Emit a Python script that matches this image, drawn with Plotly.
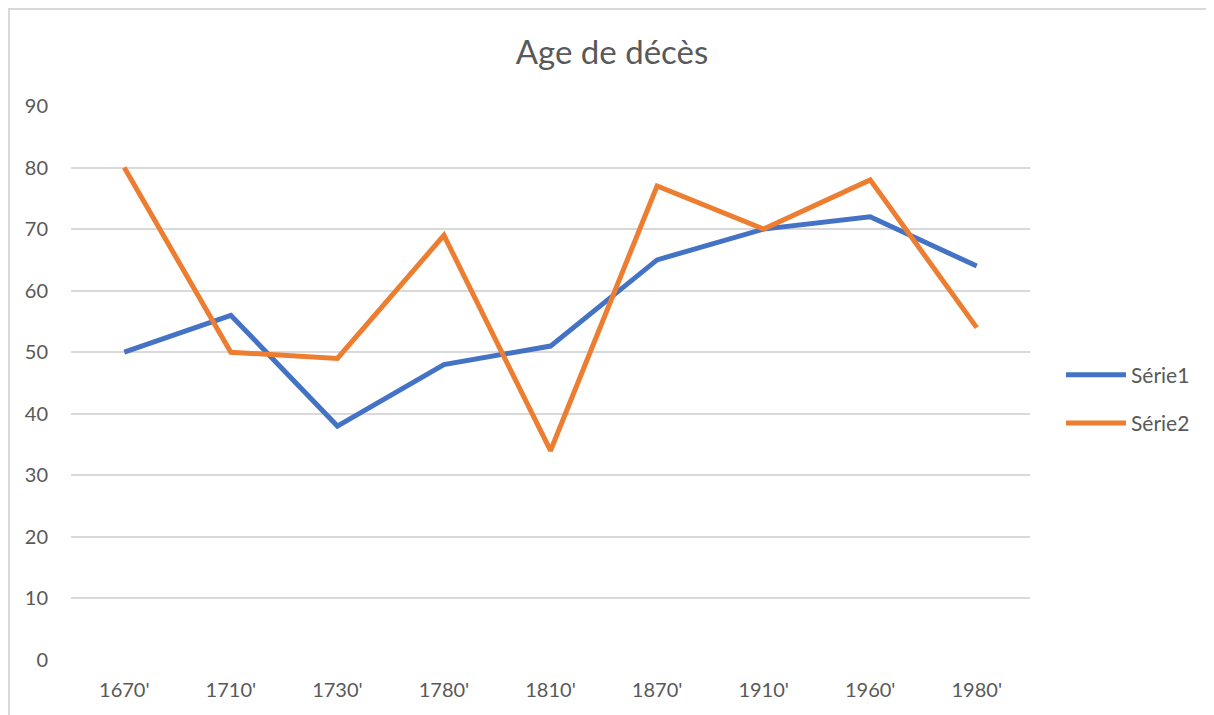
import plotly.graph_objects as go

categories = ["1670'", "1710'", "1730'", "1780'", "1810'", "1870'", "1910'", "1960'", "1980'"]
serie1 = [50, 56, 38, 48, 51, 65, 70, 72, 64]
serie2 = [80, 50, 49, 69, 34, 77, 70, 78, 54]
y_ticks = [0, 10, 20, 30, 40, 50, 60, 70, 80, 90]

FONT = "Lato, 'Open Sans', sans-serif"
GRAY = "#595959"

fig = go.Figure()
fig.add_trace(go.Scatter(x=categories, y=serie1, mode="lines", name="Série1",
                         legendgroup="g1",
                         line=dict(color="#4472C4", width=5)))
fig.add_trace(go.Scatter(x=categories, y=serie2, mode="lines", name="Série2",
                         legendgroup="g2",
                         line=dict(color="#ED7D31", width=5)))

# page has an 8px body margin; compensate so the plot area lands where the reference has it
OFF = 8
W, H = 1214 - OFF, 715 - OFF
L, R, T, B = 71 - OFF, 184, 106 - OFF, 55
pw = W - L - R
ph = H - T - B

fig.update_layout(
    width=W, height=H,
    margin=dict(l=L, r=R, t=T, b=B),
    paper_bgcolor="white", plot_bgcolor="white",
    title=dict(text="Age de décès", x=(612 - OFF) / W, xanchor="center",
               y=1 - (52 - OFF) / H, yanchor="middle",
               font=dict(family=FONT, size=33, color=GRAY)),
    font=dict(family=FONT, size=20, color=GRAY),
    showlegend=True,
    legend=dict(x=(1061 - 71) / pw, xanchor="left", y=(660 - 399) / ph, yanchor="middle",
                font=dict(family=FONT, size=21, color=GRAY),
                traceorder="grouped", tracegroupgap=18,
                itemwidth=60, bgcolor="rgba(0,0,0,0)"),
    xaxis=dict(type="category", range=[-0.5, 8.5], showgrid=False, zeroline=False,
               showline=False, ticks="", ticklabelstandoff=16,
               tickfont=dict(family=FONT, size=20, color=GRAY)),
    yaxis=dict(range=[0, 90], tickvals=y_ticks, showgrid=True, gridcolor="#d9d9d9",
               gridwidth=1.5, zeroline=False, showline=False, ticks="",
               ticklabelstandoff=22, tickfont=dict(family=FONT, size=20, color=GRAY)),
    shapes=[dict(type="rect", xref="paper", yref="paper",
                 x0=(1 - L) / pw, x1=(W + 20 - L) / pw,
                 y0=-(B + 20) / ph, y1=(ph + T - 1) / ph,
                 line=dict(color="#d9d9d9", width=2), fillcolor="rgba(0,0,0,0)", layer="below")],
)

fig.write_html("out.html")
